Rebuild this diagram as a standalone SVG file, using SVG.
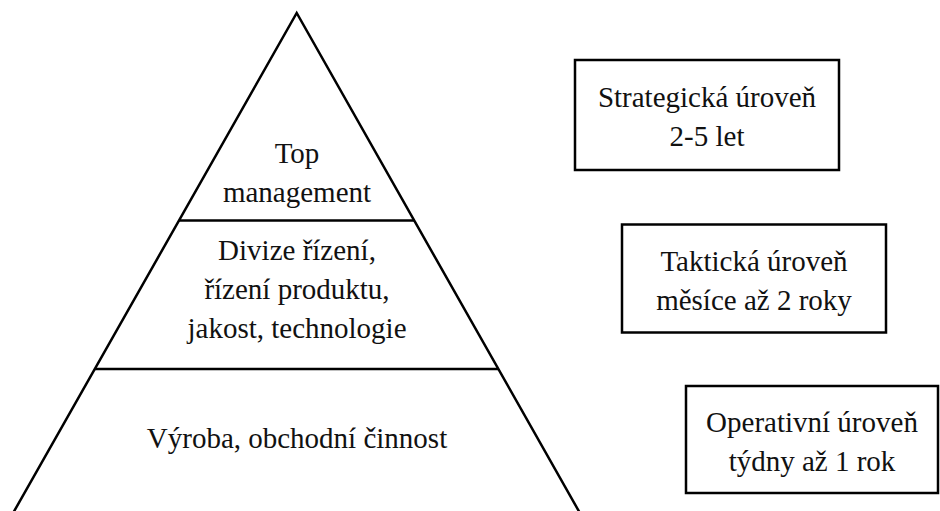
<svg xmlns="http://www.w3.org/2000/svg" width="940" height="511" viewBox="0 0 940 511">
<style>
.ln{fill:none;stroke:#000;stroke-width:2.5}
.bx{fill:#fff;stroke:#000;stroke-width:2.5}
</style>
<rect width="940" height="511" fill="#fff"/>
<g id="connectors">
<polyline class="ln" points="8,522 296.7,13 585,522"/>
<line class="ln" x1="179" y1="220.5" x2="414" y2="220.5"/>
<line class="ln" x1="95" y1="369" x2="498" y2="369"/>
</g>
<g font-family="Liberation Serif, Times New Roman, Times, serif" font-size="29" fill="#111" text-anchor="middle">
<g id="top">
<text x="297" y="163">Top</text>
<text x="297" y="202">management</text>
</g>
<g id="middle">
<text x="297" y="260">Divize řízení,</text>
<text x="297" y="299">řízení produktu,</text>
<text x="297" y="338">jakost, technologie</text>
</g>
<g id="bottom">
<text x="297" y="448">Výroba, obchodní činnost</text>
</g>
<g id="strategic">
<rect class="bx" x="575" y="60" width="264" height="110"/>
<text x="707" y="106.5">Strategická úroveň</text>
<text x="707" y="145.5">2-5 let</text>
</g>
<g id="tactical">
<rect class="bx" x="622" y="224.5" width="264" height="108"/>
<text x="754" y="270.5">Taktická úroveň</text>
<text x="754" y="309.5">měsíce až 2 roky</text>
</g>
<g id="operative">
<rect class="bx" x="686" y="386" width="252" height="107"/>
<text x="812" y="431.5">Operativní úroveň</text>
<text x="812" y="471">týdny až 1 rok</text>
</g>
</g>
</svg>
